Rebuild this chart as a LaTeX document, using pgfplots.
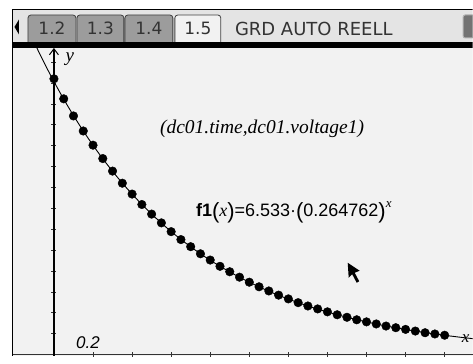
\documentclass[border=0pt]{standalone}
\usepackage{pgfplots}
\pgfplotsset{compat=1.18}
\usepackage{pgfplotstable}
\usepackage{fontspec}
\setmainfont{Liberation Serif}
\newfontfamily\djv{DejaVu Sans}
\newfontfamily\lsans{Liberation Sans}
\usetikzlibrary{arrows.meta}
\definecolor{plotbg}{HTML}{F2F2F2}
\definecolor{barbg}{HTML}{E4E4E4}
\definecolor{tabgray}{HTML}{9C9C9C}
\definecolor{tabtext}{HTML}{333333}

% measured points (dc01.time, dc01.voltage1)
\pgfplotstableread{
x y
0.00 6.60
0.05 6.12
0.10 5.71
0.15 5.35
0.20 5.01
0.25 4.69
0.30 4.39
0.35 4.10
0.40 3.84
0.45 3.59
0.50 3.36
0.55 3.15
0.60 2.94
0.65 2.75
0.70 2.58
0.75 2.41
0.80 2.26
0.85 2.11
0.90 1.98
0.95 1.85
1.00 1.73
1.05 1.62
1.10 1.52
1.15 1.42
1.20 1.33
1.25 1.24
1.30 1.16
1.35 1.09
1.40 1.02
1.45 0.95
1.50 0.89
1.55 0.83
1.60 0.78
1.65 0.73
1.70 0.68
1.75 0.64
1.80 0.60
1.85 0.56
1.90 0.52
1.95 0.49
2.00 0.46
}\datatable

% f1(x)=6.533*(0.264762)^x, values
\pgfplotstableread{
x y
-0.20 8.522
-0.15 7.974
-0.10 7.462
-0.05 6.982
0.00 6.533
0.05 6.113
0.10 5.720
0.15 5.352
0.20 5.008
0.25 4.686
0.30 4.385
0.35 4.103
0.40 3.839
0.45 3.593
0.50 3.362
0.55 3.145
0.60 2.943
0.65 2.754
0.70 2.577
0.75 2.411
0.80 2.256
0.85 2.111
0.90 1.976
0.95 1.849
1.00 1.730
1.05 1.619
1.10 1.514
1.15 1.417
1.20 1.326
1.25 1.241
1.30 1.161
1.35 1.086
1.40 1.017
1.45 0.951
1.50 0.890
1.55 0.833
1.60 0.779
1.65 0.729
1.70 0.682
1.75 0.638
1.80 0.597
1.85 0.559
1.90 0.523
1.95 0.489
2.00 0.458
2.05 0.429
2.10 0.401
2.15 0.375
2.20 0.351
}\curvetable

\newcommand{\tab}[4]{%
  \draw[draw=black!75, line width=0.8pt, fill=#3, rounded corners=3pt]
    (#1,313) -- (#1,341) -- (#2,341) -- (#2,313);
  \node[font=\djv\fontsize{17}{18}\selectfont, text=tabtext, inner sep=0pt]
    at ({(#1+#2)/2},327.5) {#4};}

\begin{document}
\begin{tikzpicture}
\begin{scope}[x=1pt,y=1pt]
\path[use as bounding box] (0,0) rectangle (473,356);
\clip (0,0) rectangle (473,356);
\fill[white] (0,0) rectangle (473,356);
\fill[plotbg] (12,0) rectangle (473,308);
\fill[barbg] (12,313) rectangle (473,346);
% tabs
\tab{28}{76}{tabgray}{1.2}
\tab{77}{124}{tabgray}{1.3}
\tab{125}{173}{tabgray}{1.4}
\tab{175}{221}{white!95!black}{1.5}
\node[font=\djv\fontsize{18}{19}\selectfont, text=tabtext, anchor=west, inner sep=0pt]
  at (235,327.5) {GRD AUTO REELL};
\fill[black] (14.5,329) -- (19,336.5) -- (19,321.5) -- cycle;
\draw[fill=black!55, draw=black!30, line width=1pt, rounded corners=2pt] (463.5,318) rectangle (480,341);
\fill[black] (12,308) rectangle (473,313.5);
\draw[black, line width=1pt] (12,346) -- (473,346);
\draw[black, line width=1.2pt] (12.5,0) -- (12.5,346);
\end{scope}

\begin{axis}[
  at={(13pt,0pt)}, anchor=south west,
  width=460pt, height=308pt, scale only axis,
  xmin=-0.2097, xmax=2.1432, ymin=-0.03, ymax=7.338,
  axis lines=middle,
  every inner x axis line/.append style={-, line width=0.8pt, black!80},
  every inner y axis line/.append style={-{Straight Barb[length=6pt,width=9pt,line width=1pt]}, line width=1.4pt, black},
  xtick={0.2,0.4,0.6,0.8,1.0,1.2,1.4,1.6,1.8,2.0},
  ytick={0.5,1,1.5,2,2.5,3,3.5,4,4.5,5,5.5,6,6.5,7},
  xticklabels={}, yticklabels={},
  tick align=center, major tick length=5pt,
  tick style={black!80, line width=0.5pt},
]
\addplot[black, line width=0.9pt, no marks, smooth] table[x=x,y=y] {\curvetable};
\addplot[only marks, mark=*, mark size=4.3pt, black] table[x=x,y=y] {\datatable};
\end{axis}

\begin{scope}[x=1pt,y=1pt]
\clip (0,0) rectangle (473,356);
\node[font=\lsans\itshape\fontsize{17}{18}\selectfont, inner sep=0pt] at (88,13) {0.2};
\node[font=\itshape\fontsize{19}{20}\selectfont, inner sep=0pt] at (70,297) {y};
\node[font=\itshape\fontsize{17}{18}\selectfont, inner sep=0pt] at (466,17) {x};
\node[font=\itshape\fontsize{19.5}{20}\selectfont, anchor=base west, inner sep=0pt] at (160,222)
  {(dc01.time,dc01.voltage1)};
\node[font=\lsans\fontsize{18}{20}\selectfont, anchor=base west, inner sep=0pt] at (196,139)
  {\textbf{f1}\raisebox{-1.5pt}{\fontsize{22}{24}\selectfont(}{\rmfamily\itshape x}\raisebox{-1.5pt}{\fontsize{22}{24}\selectfont)}=6.533·\raisebox{-1.5pt}{\fontsize{22}{24}\selectfont(}0.264762\raisebox{-1.5pt}{\fontsize{22}{24}\selectfont)}\raisebox{9pt}{\rmfamily\itshape\fontsize{13}{14}\selectfont x}};
% mouse pointer
\fill[black] (348,93) -- (349,78) -- (352.5,81.5) -- (357,73) -- (359.5,74.5) -- (355,83) -- (360,85) -- cycle;
\end{scope}
\end{tikzpicture}
\end{document}
